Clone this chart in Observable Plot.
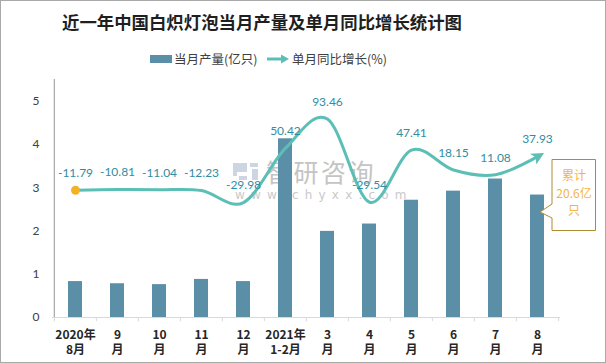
<!DOCTYPE html>
<html>
<head>
<meta charset="utf-8">
<script src="https://cdn.jsdelivr.net/npm/d3@7"></script>
<script src="https://cdn.jsdelivr.net/npm/@observablehq/plot@0.6"></script>
<style>
  html, body { margin: 0; padding: 0; background: #fff; }
  #wrap { position: relative; width: 606px; height: 363px; overflow: hidden; background: #fff; }
  #chart, #overlay, #under { position: absolute; left: 0; top: 0; }
  #overlay { pointer-events: none; }
</style>
</head>
<body>
<div id="wrap">
  <svg id="under" width="606" height="363"></svg>
  <div id="chart"></div>
  <svg id="overlay" width="606" height="363"></svg>
</div>
<script>
// ---- data ----
const categories = ["2020年\n8月", "9\n月", "10\n月", "11\n月", "12\n月", "2021年\n1-2月", "3\n月", "4\n月", "5\n月", "6\n月", "7\n月", "8\n月"];
const output = [0.83, 0.78, 0.76, 0.88, 0.83, 4.13, 1.99, 2.16, 2.71, 2.92, 3.20, 2.83];   // 当月产量(亿只)
const growth = [-11.79, -10.81, -11.04, -12.23, -29.98, 50.42, 93.46, -29.54, 47.41, 18.15, 11.08, 37.93]; // 单月同比增长(%)
const yTicks = [0, 1, 2, 3, 4, 5];
const yDomain = [0, 5.5];
const growthRange = [-200, 120];   // secondary (hidden) axis, maps onto 0..5 of the left axis
const seriesNames = ["当月产量(亿只)", "单月同比增长(%)"];
const titleText = "近一年中国白炽灯泡当月产量及单月同比增长统计图";
const noteLines = ["累计", "20.6亿", "只"];

// ---- styles ----
const barColor = "#5b8fa8";
const lineColor = "#5cbfb6";
const labelColor = "#2f8ea3";
const dotColor = "#f2b323";
const W = 606, H = 363;
const mL = 52, mR = 46, mT = 79, mB = 46;
const bw = (W - mL - mR) / categories.length;

const idx = categories.map((_, i) => i);
const toLeft = g => (g - growthRange[0]) / (growthRange[1] - growthRange[0]) * 5;

const chart = Plot.plot({
  width: W, height: H,
  marginLeft: mL, marginRight: mR, marginTop: mT, marginBottom: mB,
  style: { background: "transparent", overflow: "visible" },
  x: { type: "band", domain: categories, padding: 0, axis: null },
  y: { domain: yDomain, axis: null },
  marks: [
    Plot.axisY({ ticks: yTicks, tickFormat: d => String(d), tickSize: 0, tickPadding: 13, fontSize: 12, fill: "#404040", label: null, fontFamily: "Lato, 'Noto Sans', sans-serif" }),
    Plot.axisX({ tickSize: 0, tickPadding: 11, fontSize: 12, fontWeight: "bold", fill: "#262626", lineHeight: 1.25, label: null, fontFamily: "'Noto Sans CJK SC', sans-serif" }),
    Plot.barY(idx, { x: i => categories[i], y: i => output[i], fill: barColor, insetLeft: 14, insetRight: 14 }),
    Plot.ruleY([0], { stroke: "#d9d9d9", strokeWidth: 1.2 }),
    Plot.ruleX([categories[0]], { dx: -bw / 2, y1: yDomain[0], y2: yDomain[1], stroke: "#a6a6a6", strokeWidth: 1.2 }),
    Plot.ruleX(categories, { dx: -bw / 2, y1: 0, y2: -0.1, stroke: "#d9d9d9" }),
    Plot.ruleX([categories[categories.length - 1]], { dx: bw / 2, y1: 0, y2: -0.1, stroke: "#d9d9d9" }),
    Plot.line(idx, { x: i => categories[i], y: i => toLeft(growth[i]), curve: "cardinal", tension: 0, stroke: lineColor, strokeWidth: 3, strokeLinecap: "round" }),
    Plot.dot([0], { x: i => categories[i], y: i => toLeft(growth[i]), r: 4.5, fill: dotColor }),
    Plot.text(idx, { x: i => categories[i], y: i => toLeft(growth[i]), text: i => growth[i].toFixed(2), dy: -17, fill: labelColor, fontSize: 12, fontFamily: "Lato, 'Noto Sans', sans-serif" })
  ]
});
document.getElementById("chart").appendChild(chart);

// arrowhead at the end of the growth line
const NS = "http://www.w3.org/2000/svg";
const defs = document.createElementNS(NS, "defs");
defs.innerHTML = `<marker id="arrowEnd" viewBox="0 0 10 10" refX="4" refY="5" markerWidth="4.2" markerHeight="4.2" orient="auto" markerUnits="strokeWidth"><path d="M0,0 L10,5 L0,10 L2.5,5 z" fill="${lineColor}"/></marker>`;
chart.insertBefore(defs, chart.firstChild);
const lineG = chart.querySelector('g[aria-label="line"]');
if (lineG) lineG.querySelectorAll("path").forEach(p => p.setAttribute("marker-end", "url(#arrowEnd)"));

// ---- watermark (under the bars) ----
const under = d3.select("#under");
under.append("g").call(g => {
  g.append("path").attr("d", "M233,163 h14 v9 h-10 v4 h-4 z M239,176 h8 v4 h-8 z M250,163 h8 v4 h-8 z M252,169 h6 v11 h-6 z")
    .attr("fill", "#cdd5e3");
  g.append("text").attr("x", 266).attr("y", 182).text("智研咨询")
    .attr("font-family", "'Noto Sans CJK SC', sans-serif").attr("font-size", 25).attr("letter-spacing", 2.5).attr("fill", "#c4c4c4");
  g.append("text").attr("x", 235).attr("y", 199).text("www.chyxx.com")
    .attr("font-family", "'DejaVu Sans', sans-serif").attr("font-size", 12).attr("letter-spacing", 6.2).attr("fill", "#c9c9c9");
});

// ---- overlay: border, title, legend, callout ----
const ov = d3.select("#overlay");
ov.append("rect").attr("x", 0.5).attr("y", 0.5).attr("width", W - 1).attr("height", H - 1)
  .attr("fill", "none").attr("stroke", "#a9a9a9").attr("stroke-width", 1);
ov.append("text").attr("x", 262).attr("y", 29).attr("text-anchor", "middle").text(titleText)
  .attr("font-family", "'Noto Sans CJK SC', sans-serif").attr("font-weight", "bold").attr("font-size", 17.4).attr("fill", "#1f1f1f");

// legend
const lg = ov.append("g").attr("font-family", "'Noto Sans CJK SC', sans-serif").attr("font-size", 12.5).attr("fill", "#404040");
lg.append("rect").attr("x", 150).attr("y", 55).attr("width", 22).attr("height", 8).attr("fill", barColor);
lg.append("text").attr("x", 174).attr("y", 63.5).text(seriesNames[0]);
lg.append("line").attr("x1", 267).attr("x2", 283).attr("y1", 59).attr("y2", 59).attr("stroke", lineColor).attr("stroke-width", 3);
lg.append("path").attr("d", "M281,54.5 L289,59 L281,63.5 z").attr("fill", lineColor);
lg.append("text").attr("x", 292).attr("y", 63.5).text(seriesNames[1]);

// callout
ov.append("path").attr("d", "M552,159.5 H595.5 V230.5 H552 V218 L540,212 L552,204 Z")
  .attr("fill", "#fff").attr("stroke", "#b08a32").attr("stroke-width", 1);
const nt = ov.append("g").attr("font-family", "'Noto Sans CJK SC', sans-serif").attr("font-size", 12).attr("fill", "#f3b53f").attr("text-anchor", "middle");
noteLines.forEach((t, k) => nt.append("text").attr("x", 574).attr("y", 180 + k * 17.5).text(t));
</script>
</body>
</html>
